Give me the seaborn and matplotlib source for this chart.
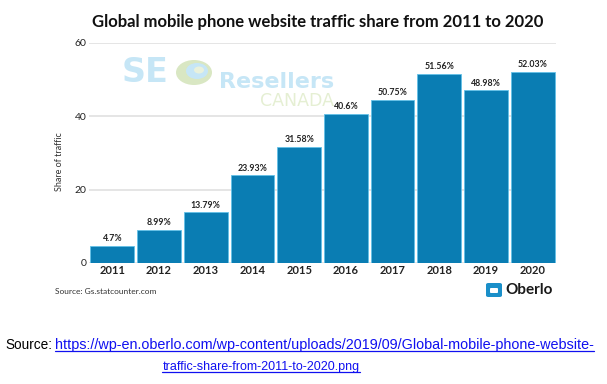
import matplotlib
matplotlib.use("Agg")
import matplotlib.pyplot as plt
from matplotlib.lines import Line2D
from matplotlib.patches import FancyBboxPatch, Ellipse
import seaborn as sns
import pandas as pd

# ---------------------------------------------------------------------------
# Data
# ---------------------------------------------------------------------------
years = ["2011", "2012", "2013", "2014", "2015", "2016", "2017", "2018", "2019", "2020"]
bar_heights = [4.7, 8.99, 13.79, 23.93, 31.58, 40.6, 44.4, 51.56, 47.0, 52.03]
value_labels = ["4.7%", "8.99%", "13.79%", "23.93%", "31.58%", "40.6%",
                "50.75%", "51.56%", "48.98%", "52.03%"]
y_ticks = [0, 20, 40, 60]

TITLE = "Global mobile phone website traffic share from 2011 to 2020"
Y_LABEL = "Share of traffic"
CHART_SOURCE = "Source: Gs.statcounter.com"
URL_LINE1 = "https://wp-en.oberlo.com/wp-content/uploads/2019/09/Global-mobile-phone-website-"
URL_LINE2 = "traffic-share-from-2011-to-2020.png"

BAR_COLOR = "#0a7db3"
EDGE_COLOR = "#63c1e8"
LINK_COLOR = "#1010f0"

W, H = 607, 384


def fx(px):
    return px / W


def fy(py):
    return 1 - py / H


def blob(cx, cy, rx, ry, color):
    # ellipse given in pixels, placed in figure coords
    fig.add_artist(Ellipse((fx(cx), fy(cy)), 2 * rx / W, 2 * ry / H,
                           transform=fig.transFigure, facecolor=color,
                           edgecolor="none", zorder=0))


sns.set_theme(style="white")
plt.rcParams["font.family"] = ["Lato", "DejaVu Sans"]

fig = plt.figure(figsize=(W / 100, H / 100), dpi=100)
fig.patch.set_facecolor("white")
ax = fig.add_axes([fx(89), fy(263), fx(556) - fx(89), fy(42.7) - fy(263)])

df = pd.DataFrame({"year": years, "share": bar_heights})

# faint watermark behind the bars
wm_font = ["DejaVu Sans"]
fig.text(fx(122), fy(82.5), "SE", fontsize=24, fontweight="bold", color="#c6e6f6",
         family=wm_font, ha="left", va="baseline", zorder=0)
blob(194, 72.5, 18, 12.5, "#d9e7c3")
blob(197, 71, 11, 8, "#c6e6f6")
blob(199, 70, 5, 3.5, "#e9f1dc")
fig.text(fx(219), fy(88.5), "Resellers", fontsize=16, fontweight="bold",
         color="#c6e6f6", family=wm_font, ha="left", va="baseline", zorder=0)
fig.text(fx(260), fy(105.5), "CANADA", fontsize=12.5, color="#e5efd3",
         family=wm_font, ha="left", va="baseline", zorder=0)
ax.set_facecolor("none")

sns.barplot(data=df, x="year", y="share", color=BAR_COLOR, width=0.94,
            saturation=1, edgecolor=EDGE_COLOR, linewidth=0.6, ax=ax, zorder=3)

for i, (h, lab) in enumerate(zip(bar_heights, value_labels)):
    ax.text(i, h + 0.7, lab, ha="center", va="bottom", fontsize=6.3,
            fontweight="bold", color="#222222", zorder=4)

ax.set_ylim(0, 60)
ax.set_yticks(y_ticks)
ax.set_yticklabels([str(t) for t in y_ticks], fontsize=7.5, color="#222222")
ax.yaxis.grid(True, color="#e3e3e3", linewidth=1.3, zorder=0)
ax.set_axisbelow(True)
for s in ax.spines.values():
    s.set_visible(False)
ax.tick_params(axis="x", length=0, pad=1.5, labelsize=8, labelcolor="#222222")
ax.tick_params(axis="y", length=0, pad=2)
for t in ax.get_xticklabels():
    t.set_fontweight("bold")
ax.set_xlabel("")
ax.set_ylabel(Y_LABEL, fontsize=6.5, color="#333333")
ax.yaxis.set_label_coords(-0.054, 0.458)

fig.text(fx(318), fy(22), TITLE, ha="center", va="center", fontsize=12,
         fontweight="bold", color="#111111")
fig.text(fx(55), fy(292), CHART_SOURCE, ha="left", va="center", fontsize=6,
         color="#333333")

# Oberlo logo
fig.add_artist(FancyBboxPatch((fx(486), fy(297)), 16 / W, 14 / H,
                              boxstyle="round,pad=0,rounding_size=0.004",
                              transform=fig.transFigure, facecolor="#1a8fc9",
                              edgecolor="none"))
fig.add_artist(FancyBboxPatch((fx(490), fy(293)), 8 / W, 5 / H,
                              boxstyle="round,pad=0,rounding_size=0.002",
                              transform=fig.transFigure, facecolor="white",
                              edgecolor="none"))
fig.text(fx(505), fy(290.5), "Oberlo", ha="left", va="center", fontsize=11,
         fontweight="bold", color="#1a1a1a")

# bottom source with underlined link
src_font = ["Liberation Sans", "DejaVu Sans"]
fig.text(fx(5), fy(349), "Source:", ha="left", va="baseline", fontsize=9.8,
         family=src_font, color="black")
t1 = fig.text(fx(55), fy(349), URL_LINE1, ha="left", va="baseline", fontsize=10.35,
              family=src_font, color=LINK_COLOR)
t2 = fig.text(fx(261), fy(370), URL_LINE2, ha="center", va="baseline", fontsize=9.0,
              family=src_font, color=LINK_COLOR)

fig.canvas.draw()
r = fig.canvas.get_renderer()
for t in (t1, t2):
    bb = t.get_window_extent(r)
    x0, x1 = bb.x0 / W, bb.x1 / W
    ybase = t.get_position()[1] - 2.2 / H
    fig.add_artist(Line2D([x0, x1], [ybase, ybase], transform=fig.transFigure,
                          color=LINK_COLOR, linewidth=0.9))

fig.savefig("out.png", dpi=100)
